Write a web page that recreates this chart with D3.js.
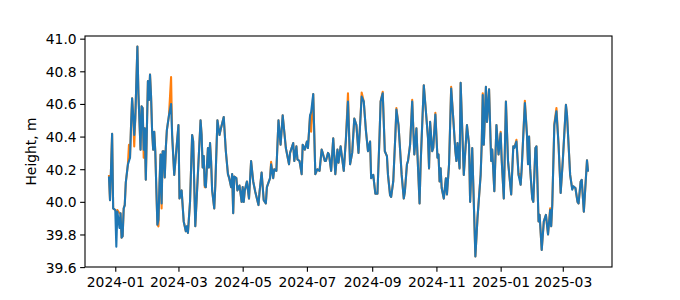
<!DOCTYPE html>
<html>
<head>
<meta charset="utf-8">
<script src="https://cdn.jsdelivr.net/npm/d3@7"></script>
<style>
  body { margin: 0; background: #fff; }
  svg { display: block; }
</style>
</head>
<body>
<svg></svg>
<script>
// daily water height, two gauges; days counted from startDate
const startDate = "2023-12-26";

const dayOffsets = [
  0, 1, 3, 4, 6, 7, 8, 10, 11, 12, 13, 14, 15, 16, 18, 20, 21, 22, 23, 24, 25, 27, 28, 30, 31, 32, 33, 34, 35, 37,
  38, 39, 40, 41, 42, 43, 44, 45, 46, 47, 48, 49, 50, 51, 52, 53, 54, 55, 57, 59,
  60, 62, 66, 67, 69, 71, 73, 74, 75, 77, 79, 80, 82, 87, 88, 89, 90, 91, 92, 94, 95, 96, 97, 98, 100, 101, 103,
  105, 106, 109, 111, 113, 114, 116, 117, 118, 119, 121, 122, 124, 125,
  126, 127, 128, 129, 131, 133, 135, 137, 139, 142, 143, 145, 147, 149, 150, 153, 154, 156, 157, 159, 161, 163,
  165, 168, 171, 172, 175, 176, 178, 179, 181, 183, 184, 186, 188, 189, 191, 192,
  194, 196, 198, 200, 202, 203, 205, 206, 208, 209, 211, 213, 215, 217, 218, 220, 223, 225, 227, 229, 231, 233,
  235, 237, 239, 240, 242, 244, 246, 248, 249, 251, 253, 255, 257, 258, 260,
  262, 264, 265, 267, 268, 270, 272, 273, 275, 276, 278, 280, 281, 283, 284, 286, 288, 290, 292, 293, 295, 296,
  299, 301, 303, 304, 305, 307, 308, 310, 312, 313, 314, 315, 316, 318, 320, 321, 323, 325,
  327, 329, 330, 331, 333, 334, 337, 340, 342, 343, 345, 348, 350, 353, 354, 355, 356, 358, 359, 361, 363, 364,
  366, 368, 370, 372, 373, 375, 377, 379, 382, 384, 385, 387, 389, 391,
  392, 395, 397, 398, 399, 400, 402, 403, 405, 406, 408, 409, 411, 413, 415, 417, 419, 420, 421, 423, 425, 427,
  429, 431, 434, 435, 437, 438, 440, 441, 443, 445, 446, 448, 449, 451, 454, 455
];

const blueValues = [
  40.155, 40.01, 40.417, 39.96, 39.95, 39.725, 39.94, 39.84, 39.93, 39.78, 39.79, 39.96, 39.98, 40.12, 40.23, 40.27,
  40.47, 40.635, 40.53, 40.41, 40.51, 40.952, 40.66, 40.32, 40.585, 40.575, 40.32, 40.45, 40.135, 40.74,
  40.625, 40.78, 40.645, 40.43, 40.32, 40.43, 40.31, 40.08, 39.86, 39.89, 40.11, 40.29, 39.99, 40.31, 40.31, 40.15,
  40.33, 40.44, 40.53, 40.6,
  40.41, 40.165, 40.47, 40.02, 40.07, 39.88, 39.82, 39.85, 39.81, 40.0, 40.41, 40.37, 39.85, 40.5, 40.41, 40.21,
  40.28, 40.1, 40.09, 40.33, 40.21, 40.36, 40.25, 40.07, 39.96, 40.1, 40.5,
  40.41, 40.44, 40.52, 40.31, 40.17, 40.15, 40.09, 40.17, 39.93, 40.155, 40.145, 40.07, 40.1, 40.05,
  40.0, 40.09, 40.0, 40.07, 40.125, 40.02, 40.25, 40.125, 40.06, 39.98, 40.06, 40.18, 40.01, 39.99, 40.09, 40.145,
  40.23, 40.145, 40.2, 40.19, 40.5, 40.35,
  40.53, 40.33, 40.23, 40.3, 40.36, 40.25, 40.34, 40.26, 40.25, 40.17, 40.35, 40.32, 40.37, 40.33, 40.53, 40.55,
  40.66, 40.17, 40.2, 40.19, 40.32, 40.3, 40.25, 40.25, 40.3, 40.29, 40.19, 40.39, 40.17, 40.32, 40.24, 40.34,
  40.19, 40.38, 40.615, 40.23, 40.3, 40.51,
  40.47, 40.3, 40.53, 40.645, 40.615, 40.44, 40.31, 40.37, 40.145, 40.165, 40.05, 40.05, 40.41, 40.615, 40.665,
  40.31, 40.28, 40.165, 40.04, 40.03, 40.125, 40.41, 40.565, 40.47, 40.37, 40.165, 40.02, 40.06, 40.23, 40.25,
  40.35, 40.615, 40.29, 40.45, 40.29, 39.99, 40.23,
  40.715, 40.555, 40.39, 40.205, 40.49, 40.31, 40.33, 40.535, 40.27, 40.29, 40.125, 40.205, 40.085, 40.02, 40.145,
  40.045, 40.23, 40.695,
  40.51, 40.31, 40.25, 40.36, 40.205, 40.73, 40.165, 40.47, 40.35, 40.0, 40.33, 39.665, 39.9, 40.165, 40.35,
  40.655, 40.35, 40.705, 40.49, 40.69, 40.25, 40.32,
  40.065, 40.47, 40.29, 40.42, 40.255, 40.02, 40.615, 40.25, 40.045, 40.34, 40.33, 40.37, 40.165, 40.105,
  40.205, 40.605, 40.41, 40.23, 40.4, 40.205, 40.02, 40.0, 40.33, 40.34, 39.88, 39.92, 39.705, 39.88, 39.92,
  39.8, 39.95, 39.85, 39.98, 40.47, 40.555, 40.35,
  40.055, 40.25, 40.595, 40.535, 40.29, 40.165, 40.075, 40.095, 40.085, 40.0, 39.99, 40.125, 40.135, 39.94,
  40.255, 40.185
];

// the orange gauge follows the blue one except on these days
const orangeDays = [0, 7, 8, 10, 19, 24, 33, 47, 50, 59, 91, 154, 192, 227, 240, 260, 273, 288, 310, 325, 355,
  372, 387, 390, 395, 419, 423, 425, 440];
const orangeValues = [40.165, 39.94, 39.95, 39.93, 40.35, 40.34, 40.27, 39.85, 39.96, 40.765, 40.09, 40.245,
  40.43, 40.665, 40.67, 40.675, 40.575, 40.625, 40.545, 40.705, 40.665, 40.43, 40.38, 40.17, 40.62, 39.96,
  40.48, 40.575, 40.08];

const yTicks = [39.6, 39.8, 40.0, 40.2, 40.4, 40.6, 40.8, 41.0];
const xTickLabels = ["2024-01", "2024-03", "2024-05", "2024-07", "2024-09", "2024-11", "2025-01", "2025-03"];
const yLabel = "Height, m";

const W = 680, H = 300;
let margin = {top: 36, right: 68, bottom: 33, left: 85};
let width = W - margin.left - margin.right;
let height = H - margin.top - margin.bottom;
const font = "'DejaVu Sans', sans-serif";
const fs = 13.89;

const parseDay = d3.timeParse("%Y-%m-%d");
const parseMonth = d3.timeParse("%Y-%m");
const t0 = parseDay(startDate);
const toDate = d => d3.timeDay.offset(t0, d);

let blue = dayOffsets.map((d, i) => ({date: toDate(d), v: blueValues[i]}));

let orangeMap = new Map(dayOffsets.map((d, i) => [d, blueValues[i]]));
orangeDays.forEach((d, i) => orangeMap.set(d, orangeValues[i]));
let orange = Array.from(orangeMap, ([d, v]) => ({date: toDate(d), v: v}))
  .sort((a, b) => a.date - b.date);

let svg = d3.select("svg").attr("width", W).attr("height", H);
let g = svg.append("g").attr("transform", "translate(" + margin.left + "," + margin.top + ")");

// matplotlib-like 5% margins
let xExt = d3.extent(blue.concat(orange), d => +d.date);
let xPad = (xExt[1] - xExt[0]) * 0.05;
let x = d3.scaleTime().domain([new Date(xExt[0] - xPad), new Date(xExt[1] + xPad)]).range([0, width]);

let yExt = d3.extent(blue.concat(orange), d => d.v);
let yPad = (yExt[1] - yExt[0]) * 0.05;
let y = d3.scaleLinear().domain([yExt[0] - yPad, yExt[1] + yPad]).range([height, 0]);

let line = d3.line().x(d => x(d.date)).y(d => y(d.v));

g.append("path").datum(orange)
  .attr("d", line)
  .attr("fill", "none")
  .attr("stroke", "#ff7f0e")
  .attr("stroke-width", 2.08)
  .attr("stroke-linejoin", "round");

g.append("path").datum(blue)
  .attr("d", line)
  .attr("fill", "none")
  .attr("stroke", "#1f77b4")
  .attr("stroke-width", 2.08)
  .attr("stroke-linejoin", "round");

// axes
let xAxis = d3.axisBottom(x)
  .tickValues(xTickLabels.map(parseMonth))
  .tickFormat(d3.timeFormat("%Y-%m"))
  .tickSize(4.86).tickPadding(3.5).tickSizeOuter(0);
let gx = g.append("g").attr("transform", "translate(0," + height + ")").call(xAxis);

let yAxis = d3.axisLeft(y)
  .tickValues(yTicks)
  .tickFormat(d3.format(".1f"))
  .tickSize(4.86).tickPadding(3.5).tickSizeOuter(0);
let gy = g.append("g").call(yAxis);

[gx, gy].forEach(a => {
  a.select(".domain").remove();
  a.selectAll(".tick line").attr("stroke", "#000").attr("stroke-width", 1.1);
  a.selectAll(".tick text").attr("fill", "#000")
    .attr("font-family", font).attr("font-size", fs);
});
gx.selectAll(".tick text").attr("dy", null).attr("y", 19.9);
gy.selectAll(".tick text").attr("dy", "0.36em");

// frame
g.append("rect")
  .attr("width", width).attr("height", height)
  .attr("fill", "none").attr("stroke", "#000").attr("stroke-width", 1.1);

svg.append("text")
  .attr("transform", "translate(36," + (margin.top + height / 2) + ") rotate(-90)")
  .attr("text-anchor", "middle")
  .attr("font-family", font).attr("font-size", fs)
  .attr("fill", "#000")
  .text(yLabel);
</script>
</body>
</html>
